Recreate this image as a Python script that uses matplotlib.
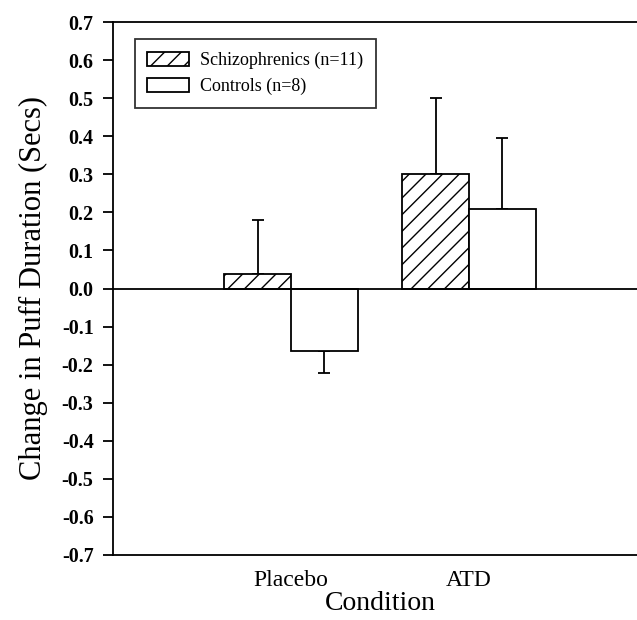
import matplotlib
matplotlib.use('Agg')
import matplotlib.pyplot as plt
import numpy as np

# data
conditions = ['Placebo', 'ATD']
schizo_mean = [0.037, 0.30]
schizo_err = [0.143, 0.20]
control_mean = [-0.163, 0.21]
control_err = [0.06, 0.186]
yticks = np.round(np.arange(-0.7, 0.71, 0.1), 1)

plt.rcParams['font.family'] = ['Liberation Serif', 'DejaVu Serif']
plt.rcParams['hatch.linewidth'] = 1.0

fig = plt.figure(figsize=(6.37, 6.20), dpi=100)
# axes runs slightly past the right edge like the original
ax = fig.add_axes([113 / 637, 1 - 555 / 620, 534 / 637, 533 / 620])

x = np.array([1, 2])
w = 0.375

ax.bar(x - w / 2, schizo_mean, w, facecolor='white', edgecolor='black',
       hatch='//', linewidth=1.3, label='Schizophrenics (n=11)', zorder=3)
ax.bar(x + w / 2, control_mean, w, facecolor='white', edgecolor='black',
       linewidth=1.3, label='Controls (n=8)', zorder=3)

# one-sided error bars, in the direction of the bar
for xs, m, e in [(x - w / 2, schizo_mean, schizo_err), (x + w / 2, control_mean, control_err)]:
    m = np.array(m)
    e = np.array(e)
    lower = np.where(m < 0, e, 0)
    upper = np.where(m >= 0, e, 0)
    ax.errorbar(xs, m, yerr=[lower, upper], fmt='none', ecolor='black',
                elinewidth=1.3, capsize=4, capthick=1.3, zorder=2)

ax.axhline(0, color='black', linewidth=1.3, zorder=4)

ax.set_xlim(0, 3)
ax.set_ylim(-0.7, 0.7)
ax.set_yticks(yticks)
ax.set_yticklabels([f'{abs(t):.1f}' if t == 0 else f'{t:.1f}' for t in yticks],
                   fontweight='bold', fontsize=14.5)
ax.set_xticks(x)
ax.set_xticklabels(conditions, fontsize=17)
ax.tick_params(axis='x', length=0, pad=11)
ax.tick_params(axis='y', length=7, width=1.3, direction='out', pad=7)

for s in ['left', 'top', 'bottom']:
    ax.spines[s].set_linewidth(1.3)
ax.spines['right'].set_visible(False)

ax.set_xlabel('Condition', fontsize=20, labelpad=0)
ax.set_ylabel('Change in Puff Duration (Secs)', fontsize=22, labelpad=10)

leg = ax.legend(loc='upper left', bbox_to_anchor=(0.024, 0.985), fontsize=13,
                frameon=True, fancybox=False, edgecolor='black',
                handlelength=2.3, handleheight=0.8, borderpad=0.7,
                labelspacing=0.5, handletextpad=0.6)
leg.get_frame().set_linewidth(1.3)

plt.savefig('out.png', dpi=100)
